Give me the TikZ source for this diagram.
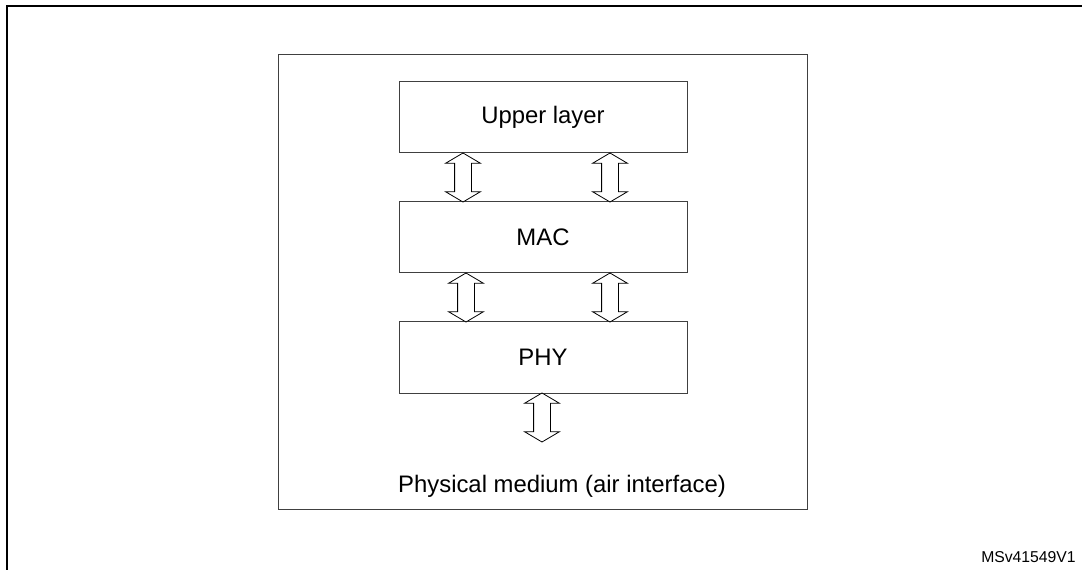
\documentclass[tikz,border=0pt]{standalone}
\usepackage{fontspec}
\setmainfont{Liberation Sans}
\usetikzlibrary{shapes.arrows}
\begin{document}
\begin{tikzpicture}[x=0.75pt,y=-0.75pt,
 layerbox/.style={draw=black!75,line width=0.75pt,minimum width=216pt,minimum height=53.25pt,inner sep=0pt,font=\fontsize{17.9}{20}\selectfont},
 dblarrow/.style={double arrow,draw=black,fill=white,line width=0.6pt,rotate=90,minimum height=36.75pt,text height=12pt,text depth=0pt,text width=1pt,inner sep=0pt,double arrow head extend=6.75pt,double arrow tip angle=119}]
\useasboundingbox (0,0) rectangle (1082,570);
\draw[line width=1.5pt] (7,570) -- (7,6) -- (1082,6);
\node[draw=black!75,line width=0.75pt,minimum width=396.75pt,minimum height=340.5pt,inner sep=0pt](medium) at (542.5,282){};
\node[layerbox](upper) at (543,117.5){Upper layer};
\node[layerbox](mac) at (543,237.5){MAC};
\node[layerbox](phy) at (543,357.5){PHY};
\foreach \n/\x/\y in {ua/463/177.5,ub/610/177.5,ma/466/297.5,mb/610/297.5,pa/542/417.5}
 \node[dblarrow](\n) at (\x,\y){};
\node[anchor=base,font=\fontsize{17.9}{20}\selectfont](air) at (562,492){Physical medium (air interface)};
\node[anchor=base east,inner sep=0pt,font=\fontsize{11.8}{14}\selectfont](fig) at (1076,562){MSv41549V1};
\end{tikzpicture}
\end{document}
